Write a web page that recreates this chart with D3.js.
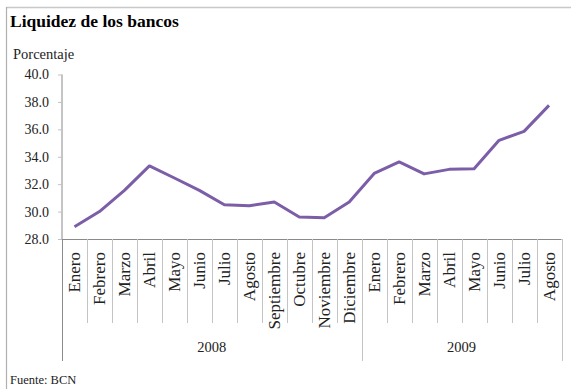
<!DOCTYPE html>
<html><head><meta charset="utf-8">
<script src="https://cdn.jsdelivr.net/npm/d3@7"></script>
<style>body{margin:0;background:#fff}svg{display:block}svg text{font-family:"Liberation Serif","Times New Roman",serif}</style>
</head><body>
<svg id="c" width="571" height="389"></svg>
<script>
const months = ["Enero","Febrero","Marzo","Abril","Mayo","Junio","Julio","Agosto","Septiembre","Octubre","Noviembre","Diciembre","Enero","Febrero","Marzo","Abril","Mayo","Junio","Julio","Agosto"];
const years = ["2008","2009"];
const yearCounts = [12, 8];
const values = [28.9,30.0,31.55,33.33,32.45,31.55,30.5,30.42,30.7,29.6,29.55,30.7,32.78,33.62,32.75,33.08,33.12,35.2,35.85,37.75];
const yTicks = [28,30,32,34,36,38,40];

const svg = d3.select("#c");
const L = 62, R = 561.5, T = 74.5, B = 239;
const keys = months.map((m,i)=>i);
const x = d3.scaleBand().domain(keys).range([L,R]).padding(0);
const y = d3.scaleLinear().domain([28,40]).range([B,T]);

// frame
svg.append("line").attr("x1",6.5).attr("x2",571).attr("y1",7.5).attr("y2",7.5).attr("stroke","#c8c8c8").attr("stroke-width",1.5);
svg.append("line").attr("x1",6.5).attr("x2",6.5).attr("y1",7).attr("y2",389).attr("stroke","#b0b0b0").attr("stroke-width",1.2);

svg.append("text").attr("x",10).attr("y",26.5).attr("font-weight","bold").attr("font-size",17.5).attr("fill","#000").text("Liquidez de los bancos");
svg.append("text").attr("x",13).attr("y",59).attr("font-size",14.5).attr("fill","#222").text("Porcentaje");

// y axis
const ya = svg.append("g").attr("transform",`translate(${L},0)`).call(d3.axisLeft(y).tickValues(yTicks).tickFormat(d3.format(".1f")).tickSize(4).tickPadding(9));
ya.attr("font-family",null);
ya.select(".domain").attr("stroke","#8a8a8a").attr("d",`M0,${T}V${B}`);
ya.selectAll(".tick line").attr("stroke","#c0c0c0");
ya.selectAll(".tick text").attr("font-size",14).attr("fill","#222");

// x axis line
svg.append("line").attr("x1",L).attr("x2",R).attr("y1",B+0.5).attr("y2",B+0.5).attr("stroke","#8a8a8a");

// month separators
const bounds = keys.map(k=>x(k)).concat([R]);
let cum = [0]; yearCounts.forEach(c=>cum.push(cum[cum.length-1]+c));
bounds.forEach((bx,i)=>{
  const isYear = cum.includes(i);
  svg.append("line").attr("x1",Math.round(bx)+0.5).attr("x2",Math.round(bx)+0.5).attr("y1",B).attr("y2",isYear?361:323)
    .attr("stroke", i===0 ? "#8a8a8a" : "#c4c4c4").attr("stroke-width",1);
});

// month labels
svg.append("g").selectAll("text").data(keys).join("text")
  .attr("transform",k=>`translate(${x(k)+x.bandwidth()/2+5.5},252) rotate(-90)`)
  .attr("text-anchor","end").attr("font-size",17).attr("fill","#222")
  .text(k=>months[k]);

// year labels
years.forEach((yr,i)=>{
  const x0 = x(cum[i]), x1 = cum[i+1] < keys.length ? x(cum[i+1]) : R;
  svg.append("text").attr("x",(x0+x1)/2).attr("y",352).attr("text-anchor","middle").attr("font-size",14.5).attr("fill","#222").text(yr);
});

// line
svg.append("path").datum(values).attr("fill","none").attr("stroke","#7b5ea7").attr("stroke-width",3).attr("stroke-linejoin","round")
  .attr("d",d3.line().x((d,i)=>x(i)+x.bandwidth()/2).y(d=>y(d)));

svg.append("text").attr("x",10).attr("y",384).attr("font-size",12.5).attr("fill","#222").text("Fuente: BCN");
</script>
</body></html>
